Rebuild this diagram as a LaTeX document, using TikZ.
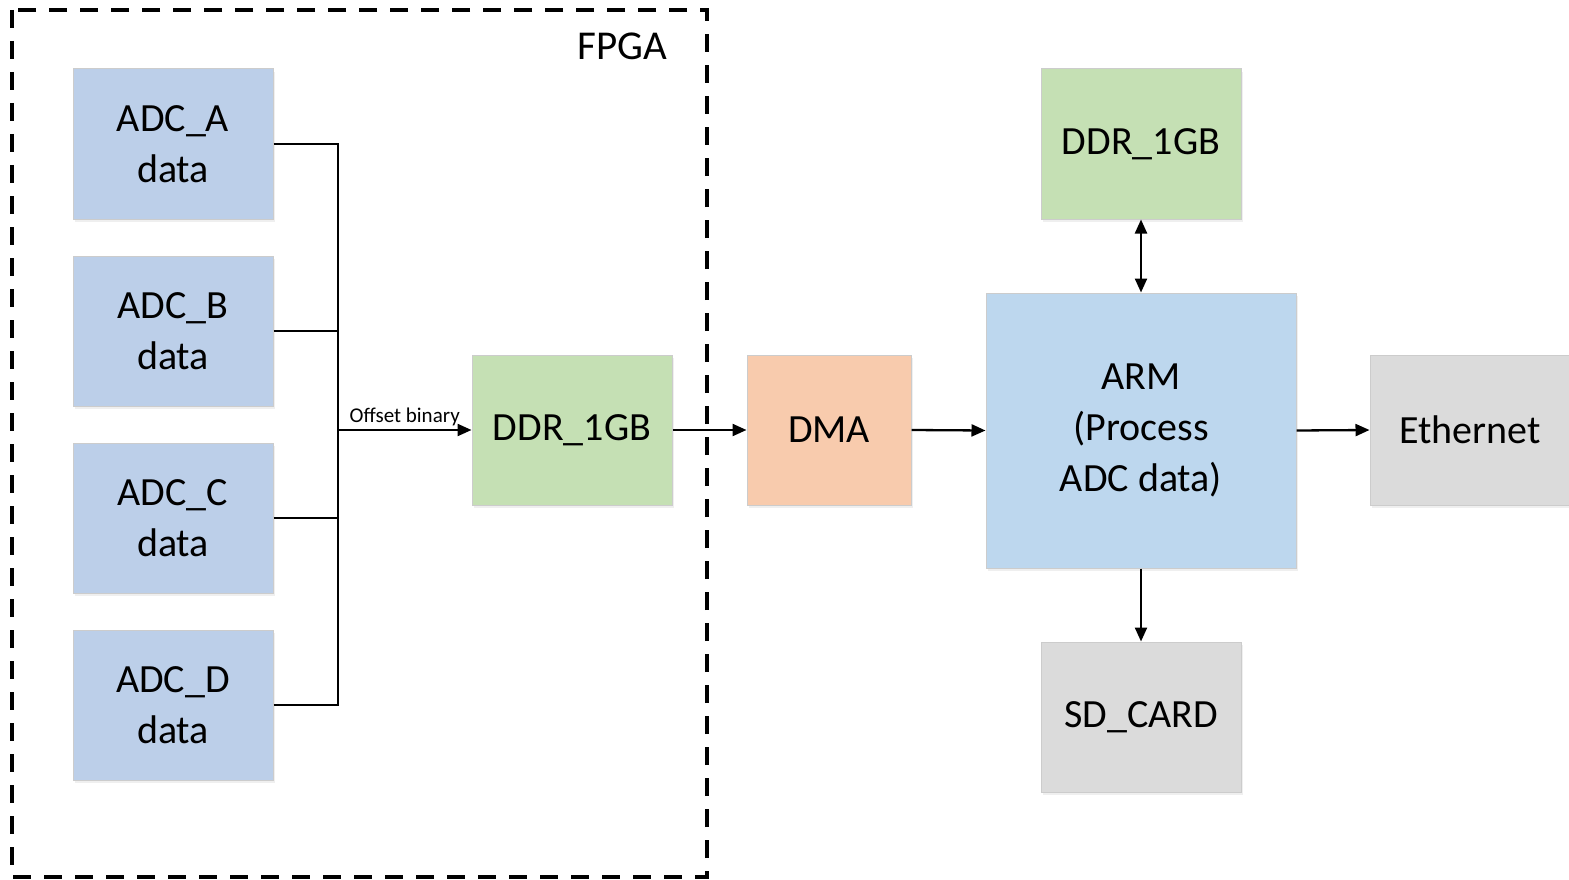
\documentclass[tikz,border=0pt]{standalone}
\usepackage{fontspec}
\setmainfont{Carlito}
\usetikzlibrary{arrows.meta,shadows}
\definecolor{adcblue}{HTML}{BCCFE9}
\definecolor{armblue}{HTML}{BDD7EE}
\definecolor{ddrgreen}{HTML}{C5E0B4}
\definecolor{dmaorange}{HTML}{F8CBAD}
\definecolor{boxgray}{HTML}{DBDBDB}
\definecolor{edgegray}{HTML}{CCCCCC}
\tikzset{
  blk/.style={draw=edgegray, line width=1pt, inner sep=0pt, align=center,
    font=\fontsize{40}{51}\selectfont,
    drop shadow={opacity=0.12, shadow xshift=2pt, shadow yshift=-3pt}},
  adc/.style={blk, fill=adcblue, minimum width=200pt, minimum height=150pt},
  arr/.style={line width=2.3pt, -{Triangle[length=14pt,width=12pt]}},
  darr/.style={line width=2.3pt, {Triangle[length=14pt,width=12pt]}-{Triangle[length=14pt,width=12pt]}},
  busline/.style={line width=2.3pt},
  fpgabox/.style={draw, line width=3.2pt, dash pattern=on 18pt off 13pt}
}
\begin{document}
\begin{tikzpicture}[x=1pt,y=-1pt]
\useasboundingbox (0,0) rectangle (1569,880);
\fill[white] (0,0) rectangle (1569,880);
\draw[fpgabox] (12,10) rectangle (707,877);
\node[font=\fontsize{41}{48}\selectfont] (fpga) at (622,46) {FPGA};

\node[adc] (adcA) at (173,144) {ADC\_A\\data};
\node[adc] (adcB) at (173,331) {ADC\_B\\data};
\node[adc] (adcC) at (173,518) {ADC\_C\\data};
\node[adc] (adcD) at (173,705) {ADC\_D\\data};

\node[blk, fill=ddrgreen, minimum width=200pt, minimum height=150pt] (ddrf) at (572,430) {DDR\_1GB};
\node[blk, fill=dmaorange, minimum width=164pt, minimum height=150pt] (dma) at (829,430) {DMA};
\node[blk, fill=armblue, minimum width=310pt, minimum height=275pt] (arm) at (1141,430.5) {ARM\\(Process\\ADC data)};
\node[blk, fill=ddrgreen, minimum width=200pt, minimum height=150pt] (ddrt) at (1141,144) {DDR\_1GB};
\node[blk, fill=boxgray, minimum width=200pt, minimum height=150pt] (sd) at (1141,717) {SD\_CARD};
\node[blk, fill=boxgray, minimum width=200pt, minimum height=150pt] (eth) at (1470,430) {Ethernet};

\coordinate (bus) at (338,430);
\draw[busline] (adcA.east) -| (bus);
\draw[busline] (adcB.east) -| (bus);
\draw[busline] (adcC.east) -| (bus);
\draw[busline] (adcD.east) -| (bus);
\draw[arr] (bus) -- (ddrf.west) node[midway, above=0pt, font=\fontsize{21}{23}\selectfont] (lbl) {Offset binary};

\draw[arr] (ddrf.east) -- (dma.west);
\draw[arr] (dma.east) -- (arm.west);
\draw[arr] (arm.east) -- (eth.west);
\draw[darr] (ddrt.south) -- (arm.north);
\draw[arr] (arm.south) -- (sd.north);
\end{tikzpicture}
\end{document}
